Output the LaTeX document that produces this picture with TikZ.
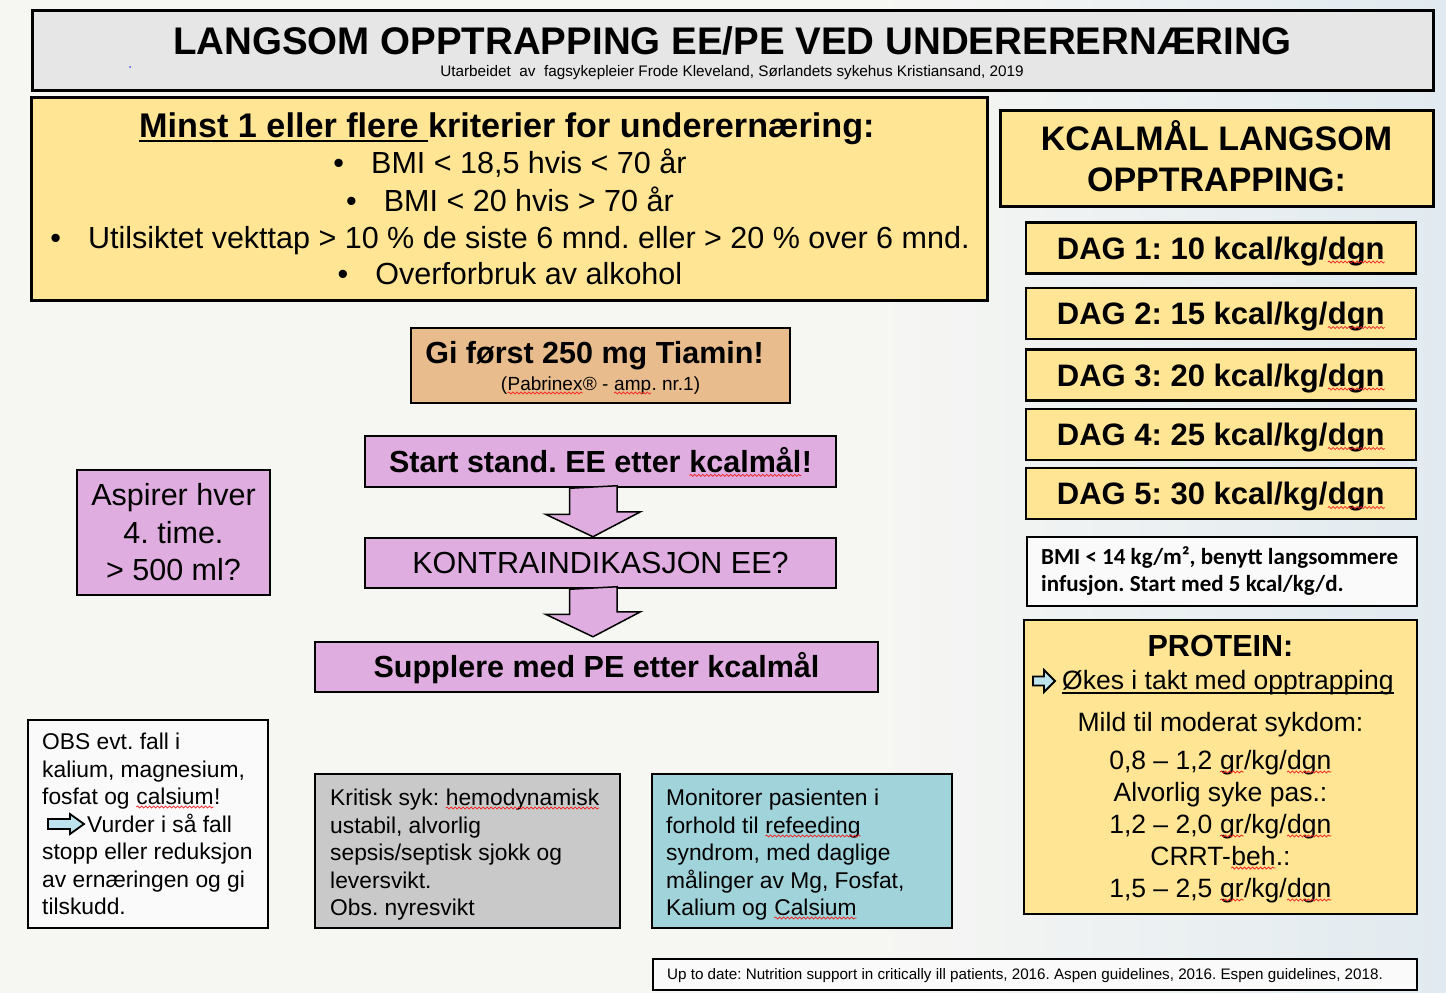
\documentclass[tikz,border=0pt]{standalone}
\usepackage{fontspec}
\setmainfont{Liberation Sans}
\newfontfamily\calibri{Carlito}
\usetikzlibrary{calc,decorations.pathmorphing}
\frenchspacing

\definecolor{bgcol}{HTML}{F6F6F3}
\definecolor{bgblue}{HTML}{E1EAF0}
\definecolor{titlegray}{HTML}{E6E6E6}
\definecolor{crityellow}{HTML}{FFE594}
\definecolor{tiamintan}{HTML}{E8BC8C}
\definecolor{flowplum}{HTML}{E0ADE0}
\definecolor{critgray}{HTML}{C9C9C9}
\definecolor{monteal}{HTML}{A1D4DA}
\definecolor{arrowblue}{HTML}{BFE3EC}
\definecolor{notewhite}{HTML}{FAFAFA}
\definecolor{spellred}{HTML}{F02020}

\tikzset{squiggle/.style={draw=spellred, fill=none, line width=0.75pt, decorate, decoration={snake, amplitude=1pt, segment length=4pt}},
  sqword/.style={draw=none, fill=none, inner sep=0pt, outer sep=0pt, minimum width=0pt, minimum height=0pt, text height=, text depth=, anchor=center}}
\newcommand\sq[1]{\tikz[baseline=(sqw.base)]{\node[sqword] (sqw) {#1}; \draw[squiggle] ([yshift=-3pt]sqw.base west) -- ([yshift=-3pt]sqw.base east);}}

\begin{document}
\begin{tikzpicture}[x=1pt, y=-1pt,
  panel/.style={draw=black, line width=2.5pt, inner sep=0pt},
  thinpanel/.style={draw=black, line width=1.8pt, inner sep=0pt},
  wh/.style 2 args={minimum width=#1pt, minimum height=#2pt},
  txt/.style={inner sep=0pt, anchor=base},
  txtl/.style={inner sep=0pt, anchor=base west},
  bodybf/.style={font=\fontsize{30.5}{36}\selectfont\bfseries},
  bodybig/.style={font=\fontsize{30.5}{36}\selectfont},
  bodymid/.style={font=\fontsize{26.5}{32}\selectfont},
  bodysmall/.style={font=\fontsize{22.8}{27}\selectfont},
  flowarrow/.style={draw=black, line width=1.5pt, fill=flowplum, line join=miter},
  iconarrow/.style={draw=black, line width=1.8pt, fill=arrowblue, line join=miter}]

\useasboundingbox (0,0) rectangle (1446,993);
\fill[bgcol] (0,0) rectangle (1446,993);
\shade[left color=bgcol, right color=bgblue] (880,0) rectangle (1446,993);

\node[panel, line width=3pt, fill=titlegray, wh={1401}{80}] (titlebox) at (732.5,50) {};
\node[txt, font=\fontsize{38.5}{44}\selectfont\bfseries] (title) at (732.5,54) {LANGSOM OPPTRAPPING EE/PE VED UNDERERERNÆRING};
\node[txt, font=\fontsize{15.3}{18}\selectfont] (subtitle) at (732,76) {Utarbeidet\ \ av\ \ fagsykepleier Frode Kleveland, Sørlandets sykehus Kristiansand, 2019};
\fill[blue!70] (130,67) circle (1);

\node[panel, line width=3pt, fill=crityellow, wh={956}{203}] (critbox) at (509,198.5) {};
\node[txtl, font=\fontsize{34.2}{40}\selectfont\bfseries] (headA) at (139,137) {Minst 1 eller flere\kern9pt};
\node[txtl, font=\fontsize{34.2}{40}\selectfont\bfseries] (headB) at (headA.base east) {kriterier for underernæring:};
\draw[line width=2pt] ([yshift=-4pt]headA.base west) -- ([yshift=-4pt]headA.base east);
\foreach \n/\y/\t in {1/173/{BMI < 18,5 hvis < 70 år}, 2/211/{BMI < 20 hvis > 70 år}, 3/248/{Utilsiktet vekttap > 10 \% de siste 6 mnd. eller > 20 \% over 6 mnd.}, 4/284/{Overforbruk av alkohol}}
  \node[txt, bodybig] (crit\n) at (510,\y) {\textbullet\hspace{27pt}\t};

\node[panel, line width=3pt, fill=crityellow, wh={433}{96}] (kcalbox) at (1216.5,158) {};
\node[txt, font=\fontsize{34}{40}\selectfont\bfseries] (kcal1) at (1216.5,150) {KCALMÅL LANGSOM};
\node[txt, font=\fontsize{34}{40}\selectfont\bfseries] (kcal2) at (1216.5,191) {OPPTRAPPING:};

\foreach \i/\y/\v in {1/248/10, 2/313.5/15, 3/375/20, 4/434.5/25, 5/493.5/30}
  \node[panel, line width=2.8pt, fill=crityellow, wh={390}{51}, font=\fontsize{31}{36}\selectfont\bfseries, text height=22pt, text depth=0pt] (dag\i) at (1221,\y) {DAG \i: \v\ kcal/kg/\sq{dgn}};

\node[thinpanel, fill=notewhite, wh={390}{69}] (bminote) at (1222,571.5) {};
\node[txtl, font=\calibri\fontsize{23}{27}\selectfont\bfseries] (bmi1) at (1041,564) {BMI < 14 kg/m², benytt langsommere};
\node[txtl, font=\calibri\fontsize{23}{27}\selectfont\bfseries] (bmi2) at (1041,591) {infusjon. Start med 5 kcal/kg/d.};

\node[panel, fill=crityellow, wh={393}{294}] (protbox) at (1220.5,767) {};
\node[txt, bodybf] (prot0) at (1220.5,656) {PROTEIN:};
\draw[iconarrow] (1033,676.5) -- (1044,676.5) -- (1044,670) -- (1055,681) -- (1044,692) -- (1044,685.5) -- (1033,685.5) -- cycle;
\node[txtl, bodymid] (prot1) at (1062,689) {Økes i takt med opptrapping};
\draw[line width=1.5pt] ([yshift=-4pt]prot1.base west) -- ([yshift=-4pt]prot1.base east);
\foreach \n/\y/\t in {2/731/{Mild til moderat sykdom:}, 3/769/{0,8 – 1,2 \sq{gr}/kg/\sq{dgn}}, 4/801/{Alvorlig syke pas.:}, 5/833/{1,2 – 2,0 \sq{gr}/kg/\sq{dgn}}, 6/865/{CRRT-\sq{beh}.:}, 7/897/{1,5 – 2,5 \sq{gr}/kg/\sq{dgn}}}
  \node[txt, bodymid] (prot\n) at (1220.5,\y) {\t};

\node[panel, fill=tiamintan, wh={379}{75}] (tiaminbox) at (600.5,365.5) {};
\node[txt, bodybf] (tiamin1) at (594.5,363) {Gi først 250 mg Tiamin!};
\node[txt, font=\fontsize{19}{22}\selectfont] (tiamin2) at (600.5,390) {(\sq{Pabrinex}® - \sq{amp}. nr.1)};

\node[panel, fill=flowplum, wh={471}{51}, bodybf, text height=21.8pt, text depth=0pt] (start) at (600.5,461.5) {Start stand. EE etter \sq{kcalmål}!};
\node[panel, fill=flowplum, wh={471}{50}, bodybig, text height=21.8pt, text depth=0pt] (kontra) at (600.5,563) {KONTRAINDIKASJON EE?};
\node[panel, fill=flowplum, wh={563}{50}, bodybf, text height=21.8pt, text depth=0pt] (supplere) at (596.5,667) {Supplere med PE etter kcalmål};
\draw[flowarrow] ($(start.south)+(-31,0)$) -- ++(0,26) -- ++(-24,0) -- ($(kontra.north)+(-7.5,0)$) -- ++(47.5,-25) -- ++(-23.5,0) -- ++(0,-26) -- cycle;
\draw[flowarrow] ($(kontra.south)+(-31,0)$) -- ++(0,25) -- ++(-24,0) -- ($(supplere.north)+(-3.5,-4)$) -- ++(47.5,-25) -- ++(-23.5,0) -- ++(0,-25) -- cycle;

\node[panel, fill=flowplum, wh={193}{125}] (aspirer) at (173.5,532.5) {};
\foreach \n/\y/\t in {1/505/{Aspirer hver}, 2/543/{4. time.}, 3/580/{> 500 ml?}}
  \node[txt, bodybig] (asp\n) at (173.5,\y) {\t};

\node[thinpanel, fill=notewhite, wh={240}{208}] (obsbox) at (148,824) {};
\foreach \n/\y/\t in {1/749/{OBS evt. fall i}, 2/777/{kalium, magnesium,}, 3/804/{fosfat og \sq{calsium}!}, 5/859/{stopp eller reduksjon}, 6/887/{av ernæringen og gi}, 7/914/{tilskudd.}}
  \node[txtl, bodysmall] (obs\n) at (42,\y) {\t};
\draw[iconarrow] (48,819) -- (70,819) -- (70,814) -- (84,824) -- (70,834) -- (70,829) -- (48,829) -- cycle;
\node[txtl, bodysmall] (obs4) at (87,832) {Vurder i så fall};

\node[thinpanel, fill=critgray, wh={305}{154}] (kritisk) at (467.5,851) {};
\foreach \n/\y/\t in {1/805/{Kritisk syk: \sq{hemodynamisk}}, 2/833/{ustabil, alvorlig}, 3/860/{sepsis/septisk sjokk og}, 4/888/{leversvikt.}, 5/915/{Obs. nyresvikt}}
  \node[txtl, bodysmall] (krit\n) at (330,\y) {\t};

\node[thinpanel, fill=monteal, wh={300}{154}] (monitor) at (802,851) {};
\foreach \n/\y/\t in {1/805/{Monitorer pasienten i}, 2/833/{forhold til \sq{refeeding}}, 3/860/{syndrom, med daglige}, 4/888/{målinger av Mg, Fosfat,}, 5/915/{Kalium og \sq{Calsium}}}
  \node[txtl, bodysmall] (mon\n) at (666,\y) {\t};

\node[thinpanel, line width=1.3pt, fill=notewhite, wh={764}{31}] (refbox) at (1035,974.5) {};
\node[txtl, font=\fontsize{15.2}{18}\selectfont] (ref) at (667,979.5) {Up to date: Nutrition support in critically ill patients, 2016. Aspen guidelines, 2016. Espen guidelines, 2018.};
\end{tikzpicture}
\end{document}
